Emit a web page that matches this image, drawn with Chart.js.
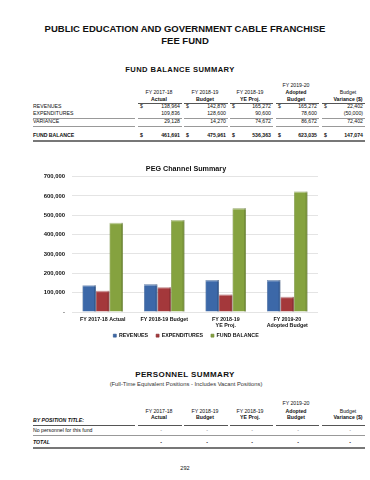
<!DOCTYPE html>
<html>
<head>
<meta charset="utf-8">
<script src="https://cdn.jsdelivr.net/npm/chart.js@4.4.1/dist/chart.umd.min.js"></script>
<style>
  body { margin: 0; width: 370px; height: 480px; background: #fff; overflow: hidden;
         font-family: "Liberation Sans", Arial, sans-serif; color: #111; position: relative; }
  .t { position: absolute; white-space: nowrap; line-height: 1; transform: translate(0, -50%); }
  .c { transform: translate(-50%, -50%); text-align: center; }
  .r { transform: translate(-100%, -50%); text-align: right; }
  .b { font-weight: bold; }
  .ln { position: absolute; height: 0; }
  #wrap { position: absolute; left: 0; top: 160px; width: 370px; height: 190px; }
</style>
</head>
<body>
<div id="page"></div>
<div id="wrap"><canvas id="peg"></canvas></div>

<script>
// ---- data ----
const categories = [['FY 2017-18 Actual'], ['FY 2018-19 Budget'], ['FY 2018-19', 'YE Proj.'], ['FY 2019-20', 'Adopted Budget']];
const revenues = [138964, 142870, 165272, 165272];
const expenditures = [109836, 128600, 90600, 78600];
const fundBalance = [461691, 475961, 536363, 623035];
const varianceCol = ['22,402', '(50,000)', '72,402', '147,074'];
const varianceRow = [29128, 14270, 74672, 86672];
const yTicks = [0, 100000, 200000, 300000, 400000, 500000, 600000, 700000];
const colHeads = [['', 'FY 2017-18', 'Actual'], ['', 'FY 2018-19', 'Budget'], ['', 'FY 2018-19', 'YE Proj.'],
                  ['FY 2019-20', 'Adopted', 'Budget'], ['', 'Budget', 'Variance ($)']];

const COLORS = { rev: '#3c68a8', exp: '#a4383b', fb: '#85a23f' };

// ---- page text and tables ----
const page = document.getElementById('page');
function txt(s, x, y, size, cls = '', extra = '') {
  const d = document.createElement('div');
  d.className = 't ' + cls;
  d.style.cssText = `left:${x}px;top:${y}px;font-size:${size}px;${extra}`;
  d.textContent = s;
  page.appendChild(d);
}
function line(x1, x2, y, w = 1, col = '#777') {
  const d = document.createElement('div');
  d.className = 'ln';
  d.style.cssText = `left:${x1}px;width:${x2 - x1}px;top:${y}px;border-top:${w}px solid ${col}`;
  page.appendChild(d);
}
const fmt = v => v.toLocaleString('en-US');

txt('PUBLIC EDUCATION AND GOVERNMENT CABLE FRANCHISE', 185, 28.5, 9.5, 'c b');
txt('FEE FUND', 185, 40.5, 9.5, 'c b');
txt('FUND BALANCE SUMMARY', 180, 70, 7.6, 'c b', 'letter-spacing:0.4px');

// column geometry: [left, right]
const cols = [[136, 181], [182, 227], [228, 272], [274, 318], [320, 364]];
const headX = [159, 205, 250, 296, 348];
const fs = 5.2;

colHeads.forEach((h, i) => {
  if (h[0]) txt(h[0], headX[i], 85.5, fs, 'c');
  txt(h[1], headX[i], 93, fs, 'c' + (i === 3 ? ' b' : ''));
  txt(h[2], headX[i], 99.5, fs, 'c b');
  line(cols[i][0] + 2, cols[i][1] + 1, 102.5, 1, '#555');
});

const labelX = 33;
const rowY = [106.5, 114.3, 122.3, 136.3];
txt('REVENUES', labelX, rowY[0], fs);
txt('EXPENDITURES', labelX, rowY[1], fs);
txt('VARIANCE', labelX, rowY[2], fs);
txt('FUND BALANCE', labelX, rowY[3], fs, 'b');
line(labelX, 135, 117.8, 1, '#999');
line(labelX, 135, 125.8, 1, '#999');

const revRow = revenues.map(fmt).concat(varianceCol[0]);
const expRow = expenditures.map(fmt).concat(varianceCol[1]);
const varRow = varianceRow.map(fmt).concat(varianceCol[2]);
const fbRow = fundBalance.map(fmt).concat(varianceCol[3]);
cols.forEach((c, i) => {
  txt('$', c[0] + 4, rowY[0], fs);
  txt(revRow[i], c[1] - 1, rowY[0], fs, 'r');
  txt(expRow[i], c[1] - 1, rowY[1], fs, 'r');
  txt(varRow[i], c[1] - 1, rowY[2], fs, 'r');
  txt('$', c[0] + 4, rowY[3], fs, 'b');
  txt(fbRow[i], c[1] - 1, rowY[3], fs, 'r b');
  line(c[0] + 2, c[1] + 1, 117.8, 1, '#999');
  line(c[0] + 2, c[1] + 1, 125.8, 1, '#999');
});
line(labelX, 365, 139.8, 2, '#777');

// personnel summary
txt('PERSONNEL SUMMARY', 185, 375, 8, 'c b', 'letter-spacing:0.4px');
txt('(Full-Time Equivalent Positions - Includes Vacant Positions)', 186, 384.5, 5.8, 'c', 'color:#333');
colHeads.forEach((h, i) => {
  if (h[0]) txt(h[0], headX[i], 404, fs, 'c');
  txt(h[1], headX[i], 411.5, fs, 'c' + (i === 3 ? ' b' : ''));
  txt(h[2], headX[i], 418, fs, 'c b');
  txt('-', headX[i] + 2, 430.5, fs, 'c', 'color:#777');
  txt('-', headX[i] + 2, 443, fs, 'c b');
});
txt('BY POSITION TITLE:', labelX, 421, fs, 'b', 'font-style:italic');
txt('No personnel for this fund', labelX, 430.5, fs);
txt('TOTAL', labelX, 443, fs, 'b', 'font-style:italic');
line(labelX, 135, 424.5, 1, '#555');
cols.forEach(c => line(c[0] + 2, c[1] + 1, 424.5, 1, '#555'));
line(labelX, 365, 434.5, 1, '#999');
line(labelX, 365, 447, 2, '#777');
txt('292', 185, 469, 5.6, 'c');

// ---- chart ----
// lighter cap and darker right edge on each bar, like the shaded bars of the original
const barShade = {
  id: 'barShade',
  afterDatasetsDraw(chart) {
    const ctx = chart.ctx;
    chart.data.datasets.forEach((ds, di) => {
      chart.getDatasetMeta(di).data.forEach(bar => {
        const { x, y, width } = bar.getProps(['x', 'y', 'width'], true);
        ctx.save();
        ctx.fillStyle = 'rgba(255,255,255,0.35)';
        ctx.fillRect(x - width / 2, y, width, 1.5);
        ctx.fillStyle = 'rgba(0,0,0,0.12)';
        ctx.fillRect(x + width / 2 - 2, y, 2, chart.chartArea.bottom - y);
        ctx.restore();
      });
    });
  }
};

// fixed legend height; legend pulled up under the two-line category labels,
// title and legend nudged right so they centre over the plot like the original
const boxPlace = {
  id: 'boxPlace',
  beforeUpdate(chart) {
    const lg = chart.legend;
    if (lg && !lg._fixed) {
      const fit = lg.fit;
      lg.fit = function () { fit.call(this); this.height = 18; };
      lg._fixed = true;
    }
  },
  afterLayout(chart) {
    const lg = chart.legend;
    if (lg) { lg.top -= 7; lg.bottom -= 7; lg.left += 6; lg.right += 6; }
    const tt = chart.titleBlock;
    if (tt) { tt.left += 6; tt.right += 6; }
  }
};

const family = '"Liberation Sans", Arial, sans-serif';
const tickFont = { family, size: 5.3, weight: 'bold' };

new Chart(document.getElementById('peg'), {
  type: 'bar',
  data: {
    labels: categories,
    datasets: [
      { label: 'REVENUES', data: revenues, backgroundColor: COLORS.rev, borderColor: '#2f5488' },
      { label: 'EXPENDITURES', data: expenditures, backgroundColor: COLORS.exp, borderColor: '#842a2d' },
      { label: 'FUND BALANCE', data: fundBalance, backgroundColor: COLORS.fb, borderColor: '#6b8530' }
    ]
  },
  plugins: [barShade, boxPlace],
  options: {
    responsive: true,
    maintainAspectRatio: false,
    animation: false,
    devicePixelRatio: 1,
    layout: { padding: { left: 42, right: 52, top: 0, bottom: 0 } },
    datasets: { bar: { borderWidth: 0.6, categoryPercentage: 0.66, barPercentage: 1 } },
    plugins: {
      title: {
        display: true,
        text: 'PEG Channel Summary',
        color: '#111',
        font: { family, size: 7.2, weight: 'bold' },
        padding: { top: 4.4, bottom: 3.6 }
      },
      legend: {
        position: 'bottom',
        labels: { color: '#111', font: tickFont, boxWidth: 3, boxHeight: 3, padding: 8 }
      },
      tooltip: { enabled: false }
    },
    scales: {
      x: {
        afterFit: scale => { scale.height = 20; },
        grid: { display: false, drawTicks: false },
        border: { display: false },
        ticks: { color: '#111', font: tickFont, padding: 4, maxRotation: 0, autoSkip: false }
      },
      y: {
        min: 0,
        max: 700000,
        afterFit: scale => { scale.width = 30; },
        afterBuildTicks: scale => { scale.ticks = yTicks.map(v => ({ value: v })); },
        grid: { color: '#e4e4e4', drawTicks: false },
        border: { display: false },
        ticks: {
          color: '#111',
          font: { family, size: 5.9, weight: 'bold' },
          padding: 7,
          callback: v => v === 0 ? '-' : fmt(v)
        }
      }
    }
  }
});
</script>
</body>
</html>
